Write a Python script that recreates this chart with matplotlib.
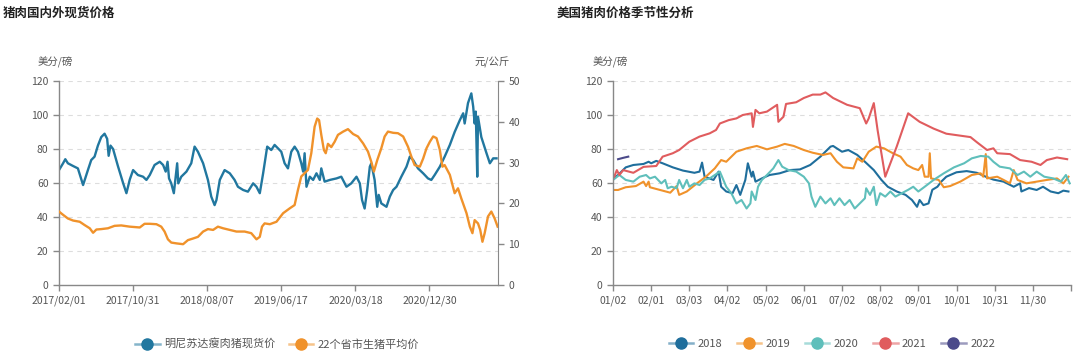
import matplotlib
matplotlib.use("Agg")
import matplotlib.pyplot as plt
from matplotlib.lines import Line2D
from matplotlib.colors import to_rgba

plt.rcParams['font.family'] = ['Noto Sans CJK SC', 'DejaVu Sans']

# ---- left chart: domestic vs US spot prices (category axis, trading-day index)
left_ticks = [0, 200, 400, 600, 800, 1000]
left_labels = ['2017/02/01', '2017/10/31', '2018/08/07', '2019/06/17', '2020/03/18', '2020/12/30']

mn_idx = [0, 11, 17, 24, 38, 51, 65, 78, 87, 96, 105, 114, 123, 130, 134, 139, 146, 159, 173, 182,
          191, 200, 213, 227, 236, 245, 258, 272, 281, 288, 293, 297, 303, 310, 314, 319, 322, 330,
          344, 357, 366, 375, 389, 402, 411, 420, 425, 434, 447, 461, 474, 483, 497, 510, 524, 533,
          542, 551, 562, 573, 582, 591, 600, 609, 618, 627, 636, 645, 654, 659, 663, 668, 677, 686,
          695, 704, 708, 717, 731, 749, 762, 776, 789, 803, 812, 818, 825, 832, 839, 843, 852, 859,
          863, 870, 884, 893, 902, 911, 924, 938, 947, 956, 969, 983, 996, 1005, 1014, 1028, 1041,
          1055, 1068, 1082, 1091, 1095, 1104, 1113, 1118, 1122, 1125, 1129, 1131, 1140, 1154, 1163,
          1172, 1181]
mn_price = [67.6, 71.6, 74.0, 71.6, 70.0, 68.6, 58.8, 67.6, 73.5, 75.5, 82.0, 87.0, 89.0, 86.0, 76.0,
            82.0, 80.0, 70.0, 60.0, 54.0, 62.0, 67.6, 64.7, 63.7, 61.8, 64.7, 70.6, 72.5, 70.6, 66.7,
            72.5, 62.7, 59.8, 54.0, 61.8, 71.6, 59.8, 63.7, 66.7, 71.6, 81.4, 78.4, 71.6, 61.8, 52.0,
            47.0, 50.0, 61.8, 67.6, 65.7, 61.8, 57.8, 55.9, 54.9, 59.8, 57.8, 54.0, 65.7, 81.4, 79.4,
            82.4, 80.4, 78.4, 71.6, 68.6, 78.4, 81.4, 78.4, 71.6, 66.7, 77.5, 57.8, 63.7, 61.8, 65.7,
            61.8, 68.6, 60.8, 61.8, 62.7, 63.7, 57.8, 59.8, 63.7, 59.8, 50.0, 45.0, 55.9, 69.6, 71.6,
            61.8, 46.0, 53.0, 48.0, 46.0, 52.0, 55.9, 57.8, 63.7, 69.6, 75.5, 73.5, 68.6, 65.7, 62.7,
            61.8, 64.7, 69.6, 75.5, 82.4, 90.0, 97.0, 101.0, 95.0, 107.0, 112.7, 105.0, 95.0, 102.0,
            63.7, 99.0, 87.0, 77.5, 71.6, 74.5, 74.5]

cn_idx = [0, 11, 24, 38, 56, 69, 83, 92, 101, 114, 132, 150, 168, 191, 218, 231, 245, 263, 276, 285,
          294, 303, 317, 335, 348, 362, 375, 389, 402, 416, 429, 443, 461, 479, 501, 519, 533, 542,
          548, 555, 569, 587, 605, 623, 636, 645, 654, 663, 672, 681, 690, 697, 702, 708, 715, 720,
          726, 735, 744, 753, 767, 780, 794, 807, 821, 834, 843, 850, 859, 870, 879, 888, 902, 915,
          929, 942, 951, 960, 974, 983, 992, 1001, 1010, 1019, 1028, 1035, 1041, 1055, 1068, 1077,
          1086, 1100, 1109, 1116, 1122, 1131, 1137, 1143, 1149, 1158, 1167, 1176, 1184]
cn_price = [18.0, 17.2, 16.3, 15.8, 15.5, 14.7, 13.9, 12.8, 13.6, 13.7, 13.9, 14.5, 14.6, 14.3, 14.1,
            15.0, 15.0, 14.9, 14.3, 13.1, 11.2, 10.4, 10.2, 10.0, 11.0, 11.4, 11.8, 13.1, 13.7, 13.5,
            14.3, 13.9, 13.5, 13.1, 13.1, 12.7, 11.2, 11.8, 14.3, 15.1, 14.9, 15.5, 17.6, 18.8, 19.6,
            23.3, 26.6, 27.4, 28.2, 32.3, 38.8, 40.8, 40.4, 36.8, 33.1, 32.3, 34.6, 33.8, 35.1, 36.8,
            37.6, 38.2, 37.0, 36.4, 34.7, 32.7, 30.2, 27.8, 30.6, 33.5, 36.4, 37.6, 37.3, 37.2, 36.4,
            33.9, 31.5, 29.4, 29.0, 31.0, 33.5, 35.1, 36.4, 36.0, 33.1, 29.0, 29.4, 27.0, 22.5, 23.7,
            21.2, 17.6, 14.3, 12.7, 15.9, 15.1, 13.5, 10.6, 12.7, 16.8, 18.0, 16.3, 14.3]

# ---- right chart: US pork seasonality (day offset from 01/02)
season_ticks = [0, 30, 60, 90, 120, 150, 180, 210, 240, 270, 300, 330, 360]
season_labels = ['01/02', '02/01', '03/03', '04/02', '05/02', '06/01', '07/02', '08/02',
                 '09/01', '10/01', '10/31', '11/30', '']

d2018 = [0, 4, 10, 16, 24, 28, 30, 34, 39, 47, 55, 64, 68, 70, 72, 79, 83, 85, 89, 94, 97, 100, 104,
         106, 109, 110, 112, 117, 123, 131, 139, 147, 155, 163, 171, 173, 180, 185, 192, 198, 205,
         211, 216, 223, 230, 235, 239, 241, 244, 248, 251, 255, 258, 262, 270, 278, 286, 293, 299,
         307, 315, 320, 321, 327, 333, 338, 344, 350, 354, 358]
v2018 = [62.7, 64.7, 69.2, 70.6, 71.2, 72.5, 71.6, 73.0, 71.6, 69.2, 67.3, 66.0, 66.7, 72.0, 63.7,
         61.8, 66.7, 57.8, 55.0, 54.0, 58.8, 53.0, 61.8, 71.6, 63.7, 66.7, 60.8, 62.7, 64.7, 65.7,
         67.6, 68.0, 70.6, 75.5, 81.4, 81.8, 78.4, 79.4, 76.5, 72.5, 67.6, 61.8, 57.8, 55.0, 53.0,
         50.0, 46.0, 50.0, 47.0, 48.0, 56.0, 57.8, 60.8, 63.7, 66.3, 67.0, 66.0, 63.7, 62.0, 60.8,
         57.8, 59.8, 55.0, 57.0, 55.9, 57.8, 55.0, 54.0, 55.5, 55.0]

d2019 = [0, 4, 10, 18, 24, 26, 28, 29, 37, 45, 50, 52, 58, 66, 73, 80, 85, 89, 97, 105, 113, 121,
         129, 135, 142, 150, 157, 165, 171, 176, 181, 189, 192, 196, 201, 207, 213, 220, 226, 231,
         236, 240, 243, 245, 248, 249, 250, 256, 260, 265, 273, 282, 289, 291, 293, 294, 302, 307,
         312, 315, 318, 325, 333, 341, 349, 354, 358]
v2019 = [55.9, 55.9, 57.5, 58.2, 60.8, 58.2, 60.8, 57.5, 55.9, 54.3, 58.2, 53.0, 55.0, 59.8, 63.7,
         68.6, 73.5, 72.5, 78.4, 80.4, 81.8, 79.8, 81.4, 83.0, 81.8, 79.4, 77.8, 76.5, 77.5, 72.5,
         69.2, 68.6, 74.5, 72.5, 78.4, 81.4, 80.4, 77.5, 75.5, 70.6, 68.6, 67.6, 70.6, 63.7, 63.7,
         77.5, 62.7, 61.8, 57.5, 58.2, 60.8, 64.7, 65.7, 63.7, 77.0, 62.7, 63.7, 61.8, 59.8, 67.6,
         61.8, 59.8, 60.8, 61.8, 62.7, 59.8, 63.7]

d2020 = [0, 5, 10, 16, 21, 26, 29, 33, 38, 41, 43, 46, 50, 52, 55, 58, 60, 64, 68, 72, 76, 80, 84,
         89, 93, 97, 101, 105, 108, 109, 112, 114, 117, 121, 126, 130, 133, 138, 144, 150, 154, 156,
         159, 163, 167, 171, 174, 178, 182, 186, 190, 194, 198, 199, 202, 205, 207, 210, 214, 218,
         222, 227, 232, 236, 240, 245, 252, 260, 268, 276, 282, 289, 295, 299, 304, 312, 318, 323,
         328, 333, 339, 346, 352, 356, 359]
v2020 = [61.8, 64.7, 61.8, 60.8, 63.7, 64.7, 62.7, 63.7, 59.8, 61.8, 56.9, 57.8, 56.9, 61.8, 56.9,
         61.8, 57.8, 59.8, 58.8, 61.8, 62.7, 64.7, 66.7, 57.8, 54.0, 48.0, 50.0, 45.0, 48.0, 55.0,
         50.0, 57.8, 61.8, 64.7, 68.6, 73.5, 69.6, 67.6, 66.7, 63.7, 59.8, 52.0, 46.0, 52.0, 48.0,
         51.0, 47.0, 51.0, 47.0, 50.0, 45.0, 48.0, 51.0, 56.9, 53.0, 57.8, 47.0, 54.0, 52.0, 55.0,
         52.0, 54.0, 56.0, 57.8, 55.0, 57.8, 61.8, 65.7, 69.2, 71.6, 74.5, 75.9, 75.5, 72.5, 69.6,
         68.6, 64.7, 66.7, 63.7, 66.7, 63.7, 62.7, 60.8, 64.7, 59.8]

d2021 = [1, 3, 5, 8, 16, 24, 34, 39, 47, 52, 60, 68, 76, 81, 84, 91, 97, 102, 109, 110, 112, 115,
         121, 127, 129, 130, 134, 136, 144, 150, 157, 163, 167, 173, 184, 194, 199, 201, 205, 208,
         214, 223, 232, 241, 252, 262, 281, 286, 294, 299, 302, 312, 320, 329, 336, 341, 349, 357]
v2021 = [63.7, 67.6, 64.7, 67.6, 66.0, 69.5, 70.0, 75.5, 77.5, 79.4, 84.3, 87.3, 89.2, 91.2, 95.0,
         97.0, 98.0, 100.0, 101.0, 93.0, 103.0, 101.0, 102.0, 105.0, 106.0, 96.0, 99.0, 106.5,
         107.5, 110.0, 112.0, 112.0, 113.3, 110.0, 106.0, 104.0, 95.0, 98.0, 107.0, 91.0, 63.7,
         81.4, 101.0, 96.0, 92.0, 89.0, 87.0, 84.0, 79.4, 80.4, 77.5, 77.0, 73.5, 72.5, 70.6,
         73.5, 75.0, 74.0]

d2022 = [4, 8, 12]
v2022 = [74.0, 74.8, 75.5]

c_mn, c_cn = '#21779f', '#f0922b'
year_colors = {'2018': '#1f6e9c', '2019': '#f0922b', '2020': '#5fbfbb', '2021': '#e05c5e', '2022': '#4b4a8a'}
grey = '#888888'
txt = '#555555'

fig = plt.figure(figsize=(10.8, 3.58), dpi=100)
W, H = 1080, 358


def style_axis(ax):
    ax.set_ylim(0, 120)
    ax.set_yticks(range(0, 121, 20))
    ax.grid(axis='y', color='#dddddd', linestyle=(0, (4, 4)), linewidth=0.8)
    ax.set_axisbelow(True)
    for s in ['top', 'right']:
        ax.spines[s].set_visible(False)
    for s in ['left', 'bottom']:
        ax.spines[s].set_color(grey)
        ax.spines[s].set_linewidth(1.0)
    ax.tick_params(colors=grey, labelcolor=txt, labelsize=7.5, length=4, width=1.0)


def legend_handle(c):
    # faded line, solid dot, like the original legend
    return Line2D([], [], color=to_rgba(c, 0.55), lw=1.8, marker='o', markersize=8,
                  markerfacecolor=c, markeredgecolor=c)


# left chart
ax1 = fig.add_axes([59 / W, 73 / H, (498 - 59) / W, 204 / H])
style_axis(ax1)
ax1.plot(mn_idx, mn_price, color=c_mn, lw=1.7)
ax1.set_xlim(0, 1185)
ax1.set_xticks(left_ticks)
ax1.set_xticklabels(left_labels)
ax2 = ax1.twinx()
ax2.plot(cn_idx, cn_price, color=c_cn, lw=1.7)
ax2.set_ylim(0, 50)
ax2.set_yticks(range(0, 51, 10))
for s in ['top', 'left', 'bottom']:
    ax2.spines[s].set_visible(False)
ax2.spines['right'].set_color(grey)
ax2.tick_params(colors=grey, labelcolor=txt, labelsize=7.5, length=4, width=1.0)

fig.text(3 / W, 1 - 13 / H, '猪肉国内外现货价格', fontsize=9, fontweight='bold', color='#222222', va='center')
fig.text(38 / W, 1 - 62 / H, '美分/磅', fontsize=7.5, color=txt, va='center')
fig.text(510 / W, 1 - 62 / H, '元/公斤', fontsize=7.5, color=txt, va='center', ha='right')

fig.legend([legend_handle(c_mn), legend_handle(c_cn)], ['明尼苏达瘦肉猪现货价', '22个省市生猪平均价'],
           loc='center', bbox_to_anchor=(277 / W, 1 - 344 / H),
           ncol=2, frameon=False, fontsize=8, labelcolor=txt, handlelength=2.2, columnspacing=1.2,
           handletextpad=0.4)

# right chart
ax3 = fig.add_axes([613 / W, 73 / H, (1071 - 613) / W, 204 / H])
style_axis(ax3)
for yr, dd, vv in [('2018', d2018, v2018), ('2019', d2019, v2019), ('2020', d2020, v2020),
                   ('2021', d2021, v2021), ('2022', d2022, v2022)]:
    ax3.plot(dd, vv, color=year_colors[yr], lw=1.5, label=yr)
ax3.set_xlim(0, 360)
ax3.set_xticks(season_ticks)
ax3.set_xticklabels(season_labels)

fig.text(557 / W, 1 - 13 / H, '美国猪肉价格季节性分析', fontsize=9, fontweight='bold', color='#222222', va='center')
fig.text(593 / W, 1 - 62 / H, '美分/磅', fontsize=7.5, color=txt, va='center')

fig.legend([legend_handle(c) for c in year_colors.values()], list(year_colors.keys()),
           loc='center', bbox_to_anchor=(832 / W, 1 - 344 / H),
           ncol=5, frameon=False, fontsize=8, labelcolor=txt, handlelength=2.2, columnspacing=1.3,
           handletextpad=0.4)

fig.savefig('out.png', dpi=100, facecolor='white')
